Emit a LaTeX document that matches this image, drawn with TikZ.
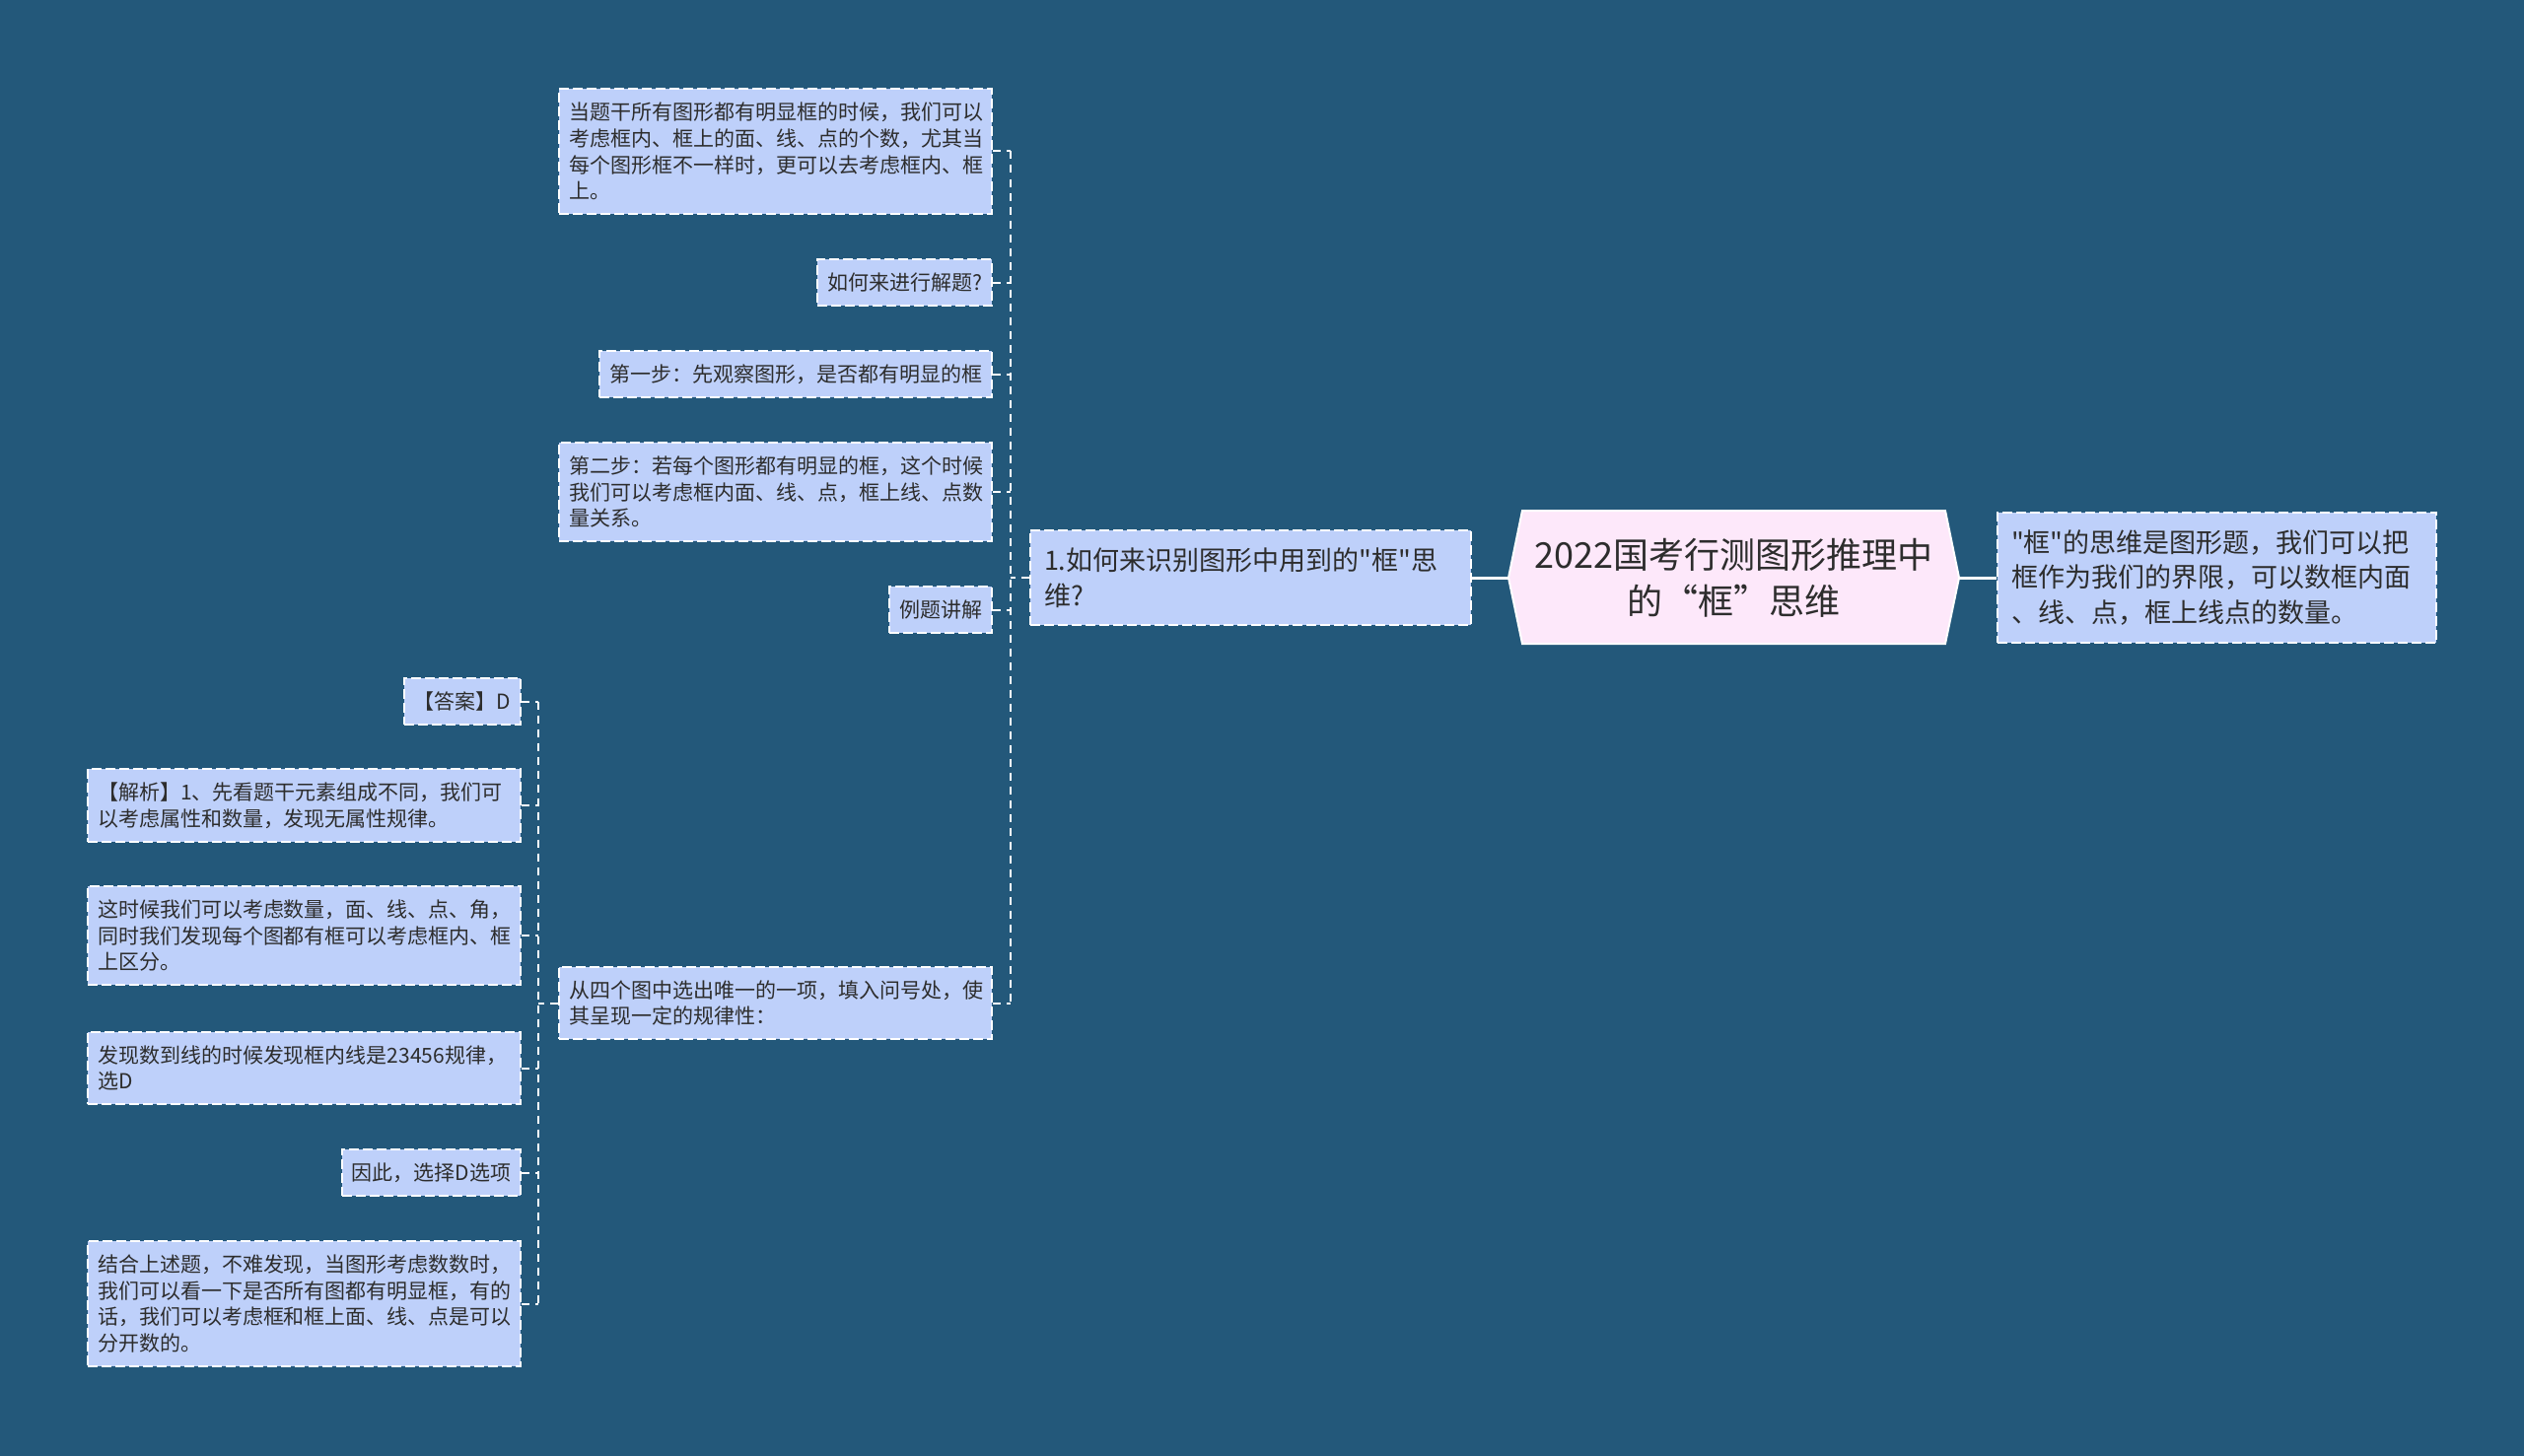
\documentclass[tikz,border=0pt]{standalone}
\usepackage{fontspec}
\newfontfamily\cjkfont{Noto Sans CJK SC}
\usepackage{xcolor}
\definecolor{bgblue}{RGB}{35,88,122}
\definecolor{boxblue}{RGB}{190,208,250}
\definecolor{rootpink}{RGB}{253,232,250}
\definecolor{inkgray}{RGB}{45,45,45}

\tikzset{
  topic/.style={draw=white, line width=2pt, dash pattern=on 10pt off 4pt,
    fill=boxblue, text=inkgray, align=left, inner xsep=10pt, inner ysep=13.5pt,
    font=\cjkfont\fontsize{21}{26.7}\selectfont},
  widetopic/.style={topic, text width=419pt},
  bigtopic/.style={topic, inner xsep=14pt, inner ysep=18pt, text width=419pt,
    font=\cjkfont\fontsize{27}{35.5}\selectfont},
  link/.style={draw=white, line width=2pt, dash pattern=on 8pt off 6pt},
  mainlink/.style={draw=white, line width=3pt}
}

\begin{document}
\begin{tikzpicture}[x=1pt,y=-1pt]
  \fill[bgblue] (0,0) rectangle (2560,1477);
  \useasboundingbox (0,0) rectangle (2560,1477);

  \filldraw[fill=rootpink, draw=white, line width=2pt]
    (1530,586) -- (1544,518) -- (1973,518) -- (1987,586) -- (1973,653) -- (1544,653) -- cycle;
  \node (root) at (1758.5,586) [minimum width=457pt, minimum height=135pt, align=center,
    text=inkgray, font=\cjkfont\fontsize{36}{47}\selectfont] {2022国考行测图形推理中\\的“框”思维};

  \node[bigtopic, anchor=west, text width=417pt] (idea) at (2025,586)
    {"框"的思维是图形题，我们可以把\\框作为我们的界限，可以数框内面\\、线、点，框上线点的数量。};
  \node[bigtopic, anchor=east] (how) at (1493,586)
    {1.如何来识别图形中用到的"框"思\\维?};

  \node[widetopic, anchor=east] (note) at (1007,153.5)
    {当题干所有图形都有明显框的时候，我们可以\\考虑框内、框上的面、线、点的个数，尤其当\\每个图形框不一样时，更可以去考虑框内、框\\上。};
  \node[topic, anchor=east] (ask) at (1007,286.5) {如何来进行解题?};
  \node[topic, anchor=east] (stepone) at (1007,379.5) {第一步：先观察图形，是否都有明显的框};
  \node[widetopic, anchor=east] (steptwo) at (1007,499)
    {第二步：若每个图形都有明显的框，这个时候\\我们可以考虑框内面、线、点，框上线、点数\\量关系。};
  \node[topic, anchor=east] (example) at (1007,618.5) {例题讲解};
  \node[widetopic, anchor=east] (task) at (1007,1017.5)
    {从四个图中选出唯一的一项，填入问号处，使\\其呈现一定的规律性：};

  \node[topic, anchor=east] (answer) at (529,711.5) {【答案】D};
  \node[widetopic, anchor=east] (analysis) at (529,817)
    {【解析】1、先看题干元素组成不同，我们可\\以考虑属性和数量，发现无属性规律。};
  \node[widetopic, anchor=east] (count) at (529,949)
    {这时候我们可以考虑数量，面、线、点、角，\\同时我们发现每个图都有框可以考虑框内、框\\上区分。};
  \node[widetopic, anchor=east] (lines) at (529,1083.5)
    {发现数到线的时候发现框内线是23456规律，\\选D};
  \node[topic, anchor=east] (choice) at (529,1189.5) {因此，选择D选项};
  \node[widetopic, anchor=east] (summary) at (529,1322.5)
    {结合上述题，不难发现，当图形考虑数数时，\\我们可以看一下是否所有图都有明显框，有的\\话，我们可以考虑框和框上面、线、点是可以\\分开数的。};

  \draw[mainlink] (root.east) -- (idea.west);
  \draw[mainlink] (root.west) -- (how.east);

  \coordinate (busa) at ([xshift=-19pt]how.west);
  \draw[link] (how.west) -- (busa);
  \draw[link] (note.east -| busa) -- (task.east -| busa);
  \foreach \n in {note,ask,stepone,steptwo,example,task}
    \draw[link] (\n.east) -- (\n.east -| busa);

  \coordinate (busb) at ([xshift=-20pt]task.west);
  \draw[link] (task.west) -- (busb);
  \draw[link] (answer.east -| busb) -- (summary.east -| busb);
  \foreach \n in {answer,analysis,count,lines,choice,summary}
    \draw[link] (\n.east) -- (\n.east -| busb);
\end{tikzpicture}
\end{document}
